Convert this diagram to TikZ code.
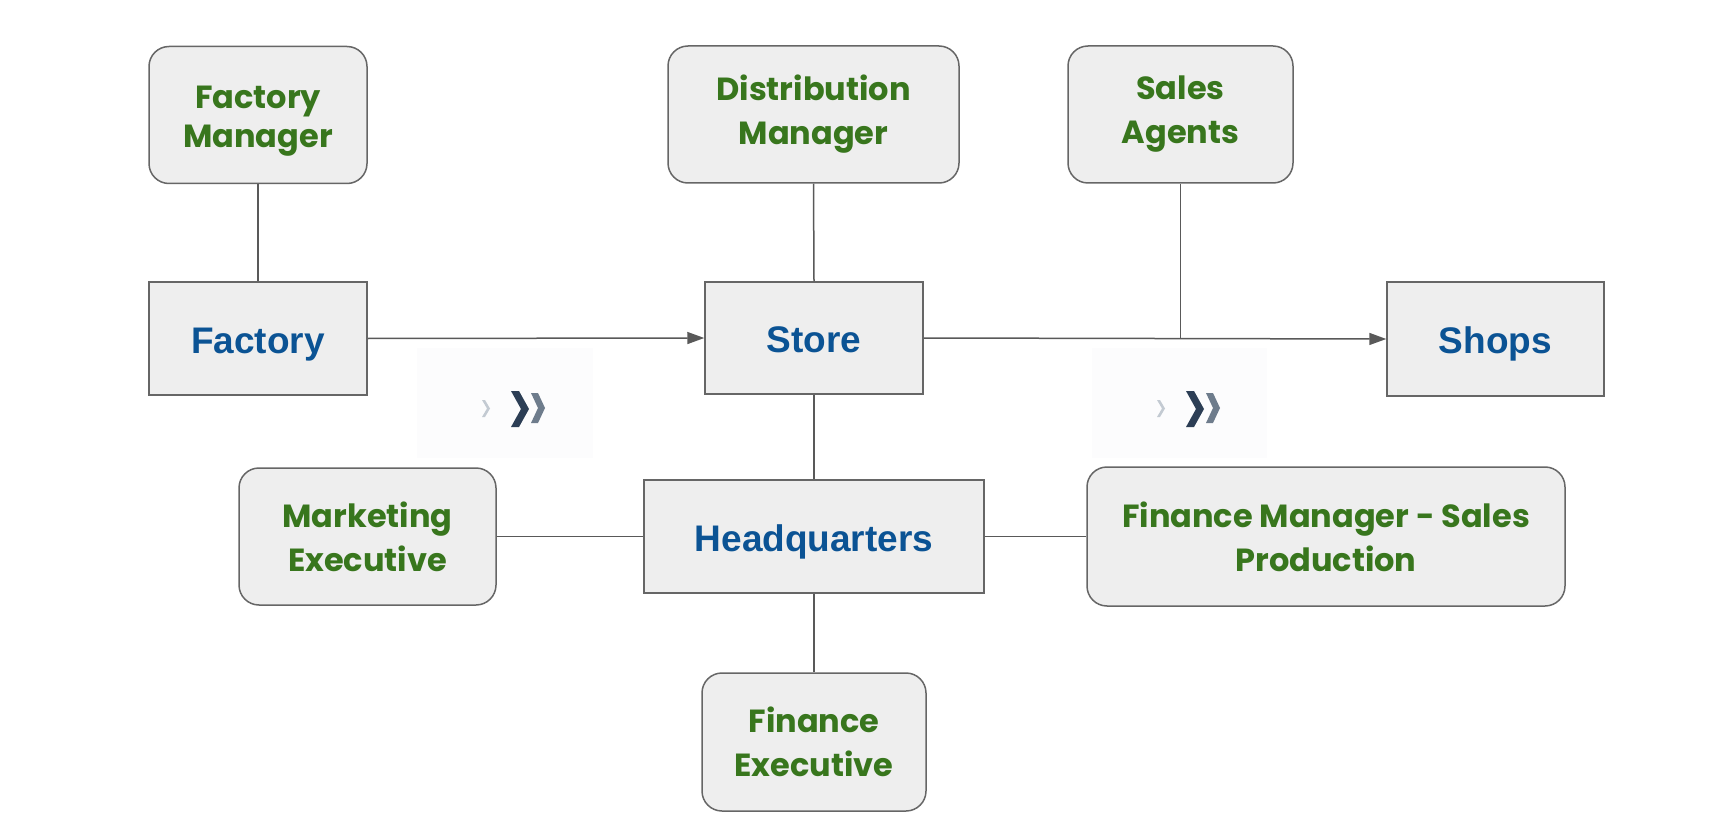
\documentclass[tikz,border=0pt]{standalone}
\usepackage{fontspec}
\newfontfamily\gfont{Poppins}
\newfontfamily\bfontx{Liberation Sans}
\usetikzlibrary{arrows.meta}
\definecolor{boxfill}{HTML}{EEEEEE}
\definecolor{boxdraw}{HTML}{666666}
\definecolor{gtext}{HTML}{38761D}
\definecolor{btext}{HTML}{0B5394}
\definecolor{linec}{HTML}{595959}
\definecolor{chevdark}{HTML}{2C3E55}
\definecolor{chevmid}{HTML}{6E7C8C}
\definecolor{chevlight}{HTML}{C3CAD2}
\definecolor{iconbg}{HTML}{FCFCFD}
\newcommand{\mychevron}[6]{\fill[#6] (#1,#3) -- ({#1+#5},#3) -- (#2,{(#3+#4)/2}) -- ({#1+#5},#4) -- (#1,#4) -- ({#2-#5},{(#3+#4)/2}) -- cycle;}
\begin{document}
\begin{tikzpicture}[x=1pt,y=-1pt,
  rbox/.style={draw=boxdraw, fill=boxfill, line width=1.5pt, rounded corners=20pt, inner sep=0pt, align=center, text=gtext, font=\gfont\bfseries\fontsize{32}{44}\selectfont},
  sbox/.style={draw=boxdraw, fill=boxfill, line width=1.5pt, inner sep=0pt, text=btext, text height=29pt, text depth=0pt, font=\bfontx\bfseries\fontsize{37}{44}\selectfont},
  conn/.style={draw=linec, line width=1.5pt},
  arr/.style={conn, -{Triangle[length=17pt,width=12pt]}}
]
\useasboundingbox (0,0) rectangle (1727,821);
\fill[white] (0,0) rectangle (1727,821);

% chevron icons
\fill[iconbg] (417,348) rectangle (593,458);
\mychevron{482}{490}{400}{417}{3}{chevlight}
\mychevron{511}{529}{391}{427}{8}{chevdark}
\mychevron{531}{545}{393}{423}{7}{chevmid}
\fill[iconbg] (1092,348) rectangle (1267,458);
\mychevron{1157}{1165}{400}{417}{3}{chevlight}
\mychevron{1186}{1204}{391}{427}{8}{chevdark}
\mychevron{1206}{1220}{393}{423}{7}{chevmid}

% nodes
\node[rbox, font=\gfont\bfseries\fontsize{32}{39}\selectfont, minimum width=218pt, minimum height=137pt] (fm) at (258,115) {\rule{0pt}{34pt}Factory\\Manager};
\node[sbox, minimum width=218pt, minimum height=113pt] (fac) at (258,338.5) {Factory};
\node[rbox, minimum width=291pt, minimum height=137pt] (dm) at (813.5,114.5) {Distribution\\Manager};
\node[rbox, minimum width=225pt, minimum height=137pt] (sa) at (1180.5,114.5) {Sales\\Agents};
\node[sbox, minimum width=218pt, minimum height=112pt] (st) at (814,338) {Store};
\node[sbox, minimum width=217pt, minimum height=114pt] (sh) at (1495.5,339) {Shops};
\node[sbox, minimum width=340pt, minimum height=113pt] (hq) at (814,536.5) {Headquarters};
\node[rbox, minimum width=257pt, minimum height=137pt] (me) at (367.5,536.5) {Marketing\\Executive};
\node[rbox, minimum width=478pt, minimum height=139pt] (fmsp) at (1326,536.5) {Finance Manager - Sales\\Production};
\node[rbox, minimum width=224pt, minimum height=138pt] (fe) at (814,742) {Finance\\Executive};

% connectors
\draw[conn] (fm.south) -- (fac.north);
\draw[arr] (fac.east) -- (st.west);
\draw[conn] (dm.south) -- (st.north);
\draw[arr] (st.east) -- (sh.west);
\coordinate (j) at (sa.south |- st.east);
\draw[conn] (sa.south) -- (j);
\draw[conn] (st.south) -- (hq.north);
\draw[conn] (me.east) -- (hq.west);
\draw[conn] (hq.east) -- (fmsp.west);
\draw[conn] (hq.south) -- (fe.north);
\end{tikzpicture}
\end{document}
